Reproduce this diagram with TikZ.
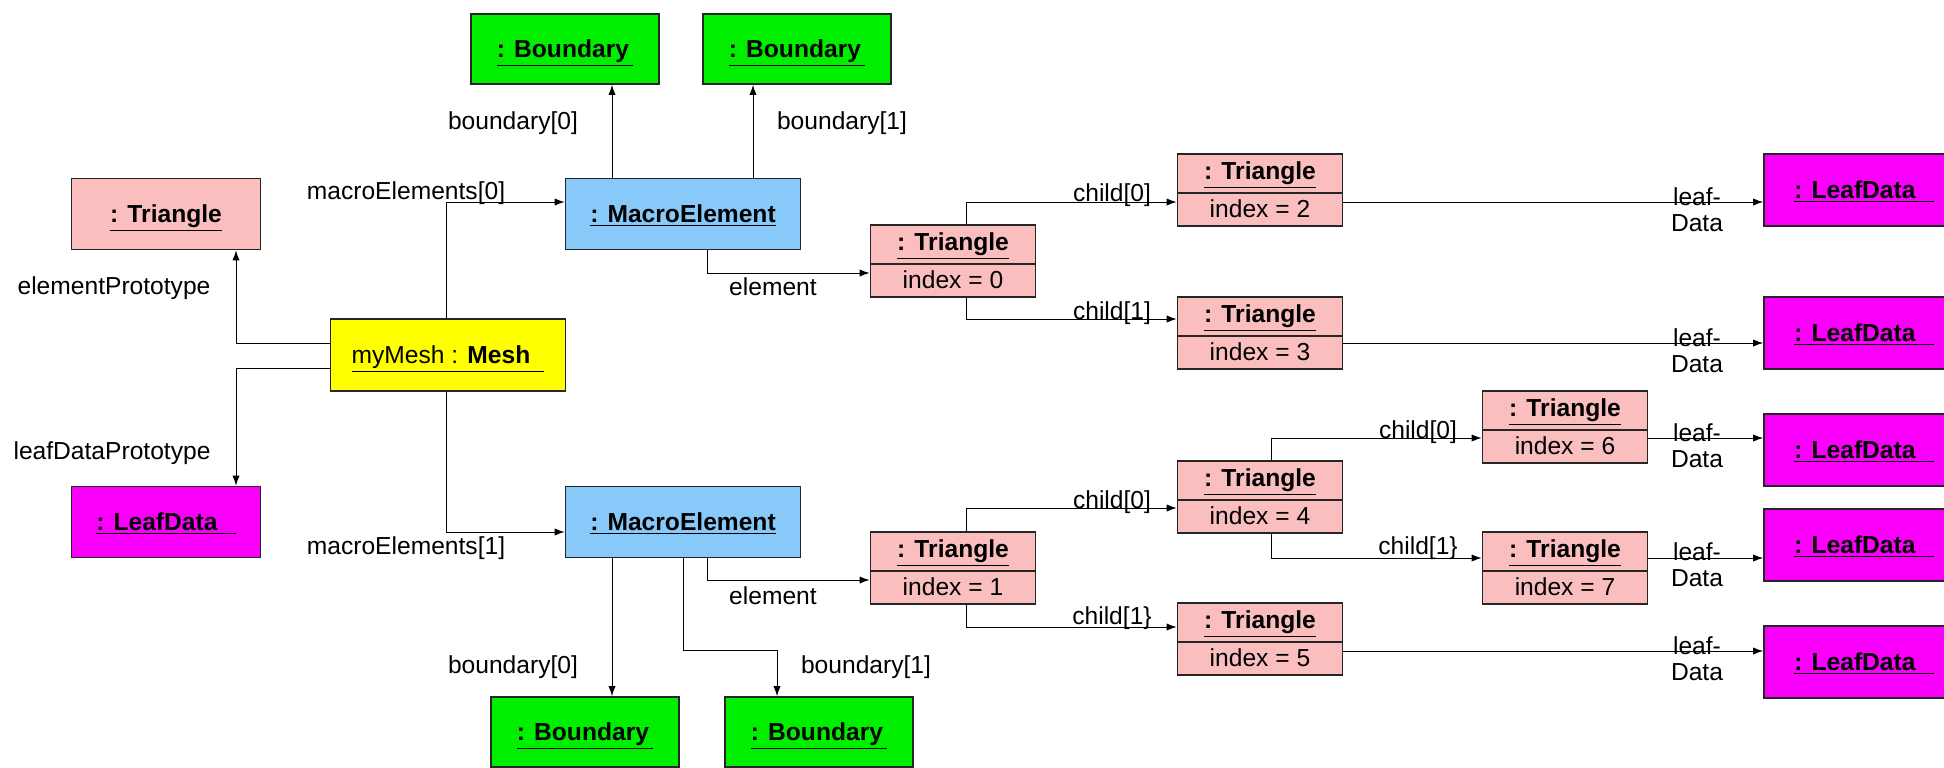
\documentclass[tikz,border=0pt]{standalone}
\usepackage{fontspec}
\setmainfont{Liberation Sans}
\usetikzlibrary{arrows.meta}

\definecolor{bndgreen}{RGB}{0,238,0}
\definecolor{meblue}{RGB}{135,202,250}
\definecolor{tripink}{RGB}{250,190,190}
\definecolor{leafmag}{RGB}{250,0,250}
\definecolor{meshyel}{RGB}{255,255,0}

\newcommand{\objn}[1]{\underline{\textbf{#1}}}

\tikzset{
    obj/.style={draw=black!85, line width=0.8pt, inner sep=0pt, align=center},
    single/.style={obj, text depth=0.5pt},
    bnd/.style={single, fill=bndgreen, minimum width=94pt, minimum height=35pt},
    macro/.style={single, fill=meblue, minimum width=117.5pt, minimum height=35.5pt},
    meshbox/.style={single, fill=meshyel, minimum width=117.5pt, minimum height=36pt},
    proto/.style={single, minimum width=94.5pt, minimum height=35.5pt},
    leaf/.style={single, fill=leafmag, minimum width=100pt, minimum height=36pt},
    tri/.style={obj, fill=tripink, minimum width=82.5pt, minimum height=36pt,
        path picture={\draw[line width=0.8pt, black!85]
            ([yshift=-19.5pt]path picture bounding box.north west) --
            ([yshift=-19.5pt]path picture bounding box.north east);}},
    lbl/.style={inner sep=0pt},
    assoc/.style={line width=0.5pt, -{Latex[length=5pt,width=3.6pt]}}
}

\begin{document}
\begin{tikzpicture}[x=0.5pt, y=-0.5pt,
    every node/.style={font=\fontsize{12.3}{14}\selectfont}]
\useasboundingbox (0,0) rectangle (1944,767);

%-------------------------------------------- Mesh and prototypes
\node[meshbox] (mesh) at (448,355) {\underline{myMesh : \textbf{Mesh}\hspace{7pt}}};
\node[proto, fill=tripink] (tproto) at (166,214) {\objn{: Triangle}};
\node[proto, fill=leafmag] (lproto) at (166,522) {\objn{: LeafData}\underline{\hspace{9pt}}};

%-------------------------------------------- Macro elements and boundaries
\node[macro] (me1) at (683,214) {\objn{: MacroElement}};
\node[macro] (me2) at (683,522) {\objn{: MacroElement}};
\node[bnd] (b1) at (565,49) {\objn{: Boundary\,}};
\node[bnd] (b2) at (797,49) {\objn{: Boundary\,}};
\node[bnd] (b3) at (585,732) {\objn{: Boundary\,}};
\node[bnd] (b4) at (819,732) {\objn{: Boundary\,}};

%-------------------------------------------- Triangle tree
\node[tri] (t0) at (953,261) {\objn{: Triangle}\\[5pt]index = 0};
\node[tri] (t1) at (953,568) {\objn{: Triangle}\\[5pt]index = 1};
\node[tri] (t2) at (1260,190) {\objn{: Triangle}\\[5pt]index = 2};
\node[tri] (t3) at (1260,333) {\objn{: Triangle}\\[5pt]index = 3};
\node[tri] (t4) at (1260,497) {\objn{: Triangle}\\[5pt]index = 4};
\node[tri] (t5) at (1260,639) {\objn{: Triangle}\\[5pt]index = 5};
\node[tri] (t6) at (1565,427) {\objn{: Triangle}\\[5pt]index = 6};
\node[tri] (t7) at (1565,568) {\objn{: Triangle}\\[5pt]index = 7};

%-------------------------------------------- Leaf data
\node[leaf] (l1) at (1864,190) {\objn{: LeafData}\underline{\hspace{9pt}}};
\node[leaf] (l2) at (1864,333) {\objn{: LeafData}\underline{\hspace{9pt}}};
\node[leaf] (l3) at (1864,450) {\objn{: LeafData}\underline{\hspace{9pt}}};
\node[leaf] (l4) at (1864,545) {\objn{: LeafData}\underline{\hspace{9pt}}};
\node[leaf] (l5) at (1864,662) {\objn{: LeafData}\underline{\hspace{9pt}}};

%-------------------------------------------- Mesh links
\draw[assoc] ([yshift=6pt]mesh.west) -| ([xshift=35pt]tproto.south);     % elementPrototype
\draw[assoc] ([yshift=-6.5pt]mesh.west) -| ([xshift=35pt]lproto.north);  % leafDataPrototype
\draw[assoc] ([xshift=-1pt]mesh.north) |- ([yshift=6pt]me1.west);        % macroElements[0]
\draw[assoc] ([xshift=-1pt]mesh.south) |- ([yshift=-5pt]me2.west);       % macroElements[1]

%-------------------------------------------- Macro element links
\coordinate (m1b0) at ([xshift=-35.5pt]me1.north);
\coordinate (m1b1) at ([xshift=35pt]me1.north);
\coordinate (m2b0) at ([xshift=-35.5pt]me2.south);
\coordinate (m2b1) at ([xshift=-21pt,yshift=23pt]b4.north);
\draw[assoc] (m1b0) -- (m1b0 |- b1.south);
\draw[assoc] (m1b1) -- (m1b1 |- b2.south);
\draw[assoc] (m2b0) -- (m2b0 |- b3.north);
\draw[assoc] (me2.south) |- (m2b1) -- (m2b1 |- b4.north);
\draw[assoc] ([xshift=12pt]me1.south) |- ([yshift=-6pt]t0.west);  % element
\draw[assoc] ([xshift=12pt]me2.south) |- ([yshift=-6pt]t1.west);

%-------------------------------------------- Children
\draw[assoc] ([xshift=6.5pt]t0.north) |- ([yshift=-6pt]t2.west);
\draw[assoc] ([xshift=6.5pt]t0.south) |- ([yshift=7pt]t3.west);
\draw[assoc] ([xshift=6.5pt]t1.north) |- ([yshift=-5.5pt]t4.west);
\draw[assoc] ([xshift=6.5pt]t1.south) |- ([yshift=6pt]t5.west);
\draw[assoc] ([xshift=5.5pt]t4.north) |- ([yshift=-5.5pt]t6.west);
\draw[assoc] ([xshift=5.5pt]t4.south) |- ([yshift=5pt]t7.west);

%-------------------------------------------- Leaf links
\coordinate (c2) at ([yshift=-6pt]t2.east);
\coordinate (c3) at ([yshift=-5pt]t3.east);
\coordinate (c6) at ([yshift=-5.5pt]t6.east);
\coordinate (c7) at ([yshift=5pt]t7.east);
\coordinate (c5) at ([yshift=-6pt]t5.east);
\draw[assoc] (c2) -- (c2 -| l1.west);
\draw[assoc] (c3) -- (c3 -| l2.west);
\draw[assoc] (c6) -- (c6 -| l3.west);
\draw[assoc] (c7) -- (c7 -| l4.west);
\draw[assoc] (c5) -- (c5 -| l5.west);

%-------------------------------------------- Role names
\node[lbl] (lEP) at (114,288) {elementPrototype};
\node[lbl] (lLP) at (112,453) {leafDataPrototype};
\node[lbl] (lM0) at (406,193) {macroElements[0]};
\node[lbl] (lM1) at (406,548) {macroElements[1]};
\node[lbl] (lB0) at (513,123) {boundary[0]};
\node[lbl] (lB1) at (842,123) {boundary[1]};
\node[lbl] (lB2) at (513,667) {boundary[0]};
\node[lbl] (lB3) at (866,667) {boundary[1]};
\node[lbl] (lE0) at (773,287) {element};
\node[lbl] (lE1) at (773,596) {element};
\node[lbl] (lC0) at (1112,195) {child[0]};
\node[lbl] (lC1) at (1112,313) {child[1]};
\node[lbl] (lC2) at (1112,502) {child[0]};
\node[lbl] (lC3) at (1112,618) {child[1\}};
\node[lbl] (lC4) at (1418,432) {child[0]};
\node[lbl] (lC5) at (1418,548) {child[1\}};
\foreach \y/\n in {210/1,351/2,446/3,565/4,659/5}
    \node[lbl, align=center] (lD\n) at (1697,\y) {leaf-\\[-1pt]Data};

\end{tikzpicture}
\end{document}
